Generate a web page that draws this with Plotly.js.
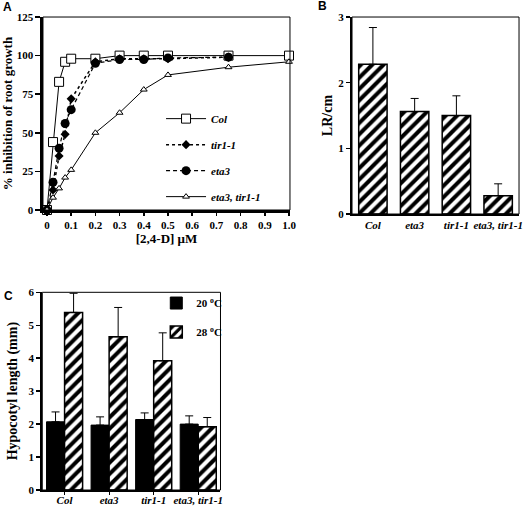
<!DOCTYPE html>
<html>
<head>
<meta charset="utf-8">
<script src="https://cdn.plot.ly/plotly-3.0.1.min.js"></script>
<style>html,body{margin:0;padding:0;background:#fff;}#chart{width:528px;height:508px;}</style>
</head>
<body>
<div id="chart"></div>
<script>
// ---- Panel A: dose response ----
var concA = [0, 0.025, 0.05, 0.075, 0.1, 0.2, 0.3, 0.4, 0.5, 0.75, 1.0];
var colA = [0, 44, 83, 96, 98, 98, 100, 100, 100, 100, 100];
var concB = [0, 0.025, 0.05, 0.075, 0.1, 0.2, 0.3, 0.4, 0.5, 0.75];
var tirA = [0, 13, 35, 49, 72, 96, 98, 98, 98, 99];
var eta3A = [0, 18, 40, 56, 65, 95, 97.5, 97.5, 98.5, 99];
var doubleA = [0, 8, 14, 21, 26, 50, 63, 78, 87.5, 92.5, 96];
var xTickVals = [0, 0.1, 0.2, 0.3, 0.4, 0.5, 0.6, 0.7, 0.8, 0.9, 1.0];
var xTickText = ['0', '0.1', '0.2', '0.3', '0.4', '0.5', '0.6', '0.7', '0.8', '0.9', '1.0'];
var yTickValsA = [0, 25, 50, 75, 100, 125];

// ---- Panel B: lateral roots ----
var genotypes = ['Col', 'eta3', 'tir1-1', 'eta3, tir1-1'];
var lrValues = [2.28, 1.56, 1.5, 0.28];
var lrErr = [0.56, 0.2, 0.3, 0.18];

// ---- Panel C: hypocotyl length ----
var hyp20 = [2.07, 1.97, 2.14, 2.0];
var hyp20Err = [0.3, 0.25, 0.2, 0.25];
var hyp28 = [5.39, 4.65, 3.92, 1.92];
var hyp28Err = [0.58, 0.89, 0.85, 0.28];

var serif = 'Liberation Serif, Times New Roman, serif';
var tickFont = {family: serif, size: 11, color: 'black', weight: 'bold'};
var italFont = {family: serif, size: 11, color: 'black', weight: 'bold', style: 'italic'};
var hatch = {shape: '/', size: 8, solidity: 0.5, fgcolor: 'black', bgcolor: 'white', fillmode: 'replace'};

var traces = [
  {x: concA, y: colA, name: 'Col', type: 'scatter', mode: 'lines+markers', xaxis: 'x', yaxis: 'y',
   line: {color: 'black', width: 1}, marker: {symbol: 'square', size: 9, color: 'white', line: {color: 'black', width: 1}},
   legendgroup: 'a1', cliponaxis: false},
  {x: concB, y: tirA, name: 'tir1-1', type: 'scatter', mode: 'lines+markers', xaxis: 'x', yaxis: 'y',
   line: {color: 'black', width: 1.5, dash: 'dot'}, marker: {symbol: 'diamond', size: 7, color: 'black'},
   legendgroup: 'a2', cliponaxis: false},
  {x: concB, y: eta3A, name: 'eta3', type: 'scatter', mode: 'lines+markers', xaxis: 'x', yaxis: 'y',
   line: {color: 'black', width: 1.2, dash: '4px,3px'}, marker: {symbol: 'circle', size: 9, color: 'black'},
   legendgroup: 'a3', cliponaxis: false},
  {x: concA, y: doubleA, name: 'eta3, tir1-1', type: 'scatter', mode: 'lines+markers', xaxis: 'x', yaxis: 'y',
   line: {color: 'black', width: 1}, marker: {symbol: 'triangle-up', size: 6, color: 'white', line: {color: 'black', width: 1}},
   legendgroup: 'a4', cliponaxis: false},
  {x: genotypes, y: lrValues, type: 'bar', xaxis: 'x2', yaxis: 'y2', showlegend: false, width: 0.68,
   marker: {color: 'white', pattern: hatch, line: {color: 'black', width: 1.5}},
   error_y: {type: 'data', array: lrErr, arrayminus: [0, 0, 0, 0], symmetric: false, color: 'black', thickness: 1, width: 4}},
  {x: genotypes, y: hyp20, type: 'bar', name: '20 <sup>o</sup>C', xaxis: 'x3', yaxis: 'y3', legend: 'legend2',
   marker: {color: 'black', line: {color: 'black', width: 1}}, legendgroup: 'c1',
   error_y: {type: 'data', array: hyp20Err, arrayminus: [0, 0, 0, 0], symmetric: false, color: 'black', thickness: 1, width: 4}},
  {x: genotypes, y: hyp28, type: 'bar', name: '28 <sup>o</sup>C', xaxis: 'x3', yaxis: 'y3', legend: 'legend2',
   marker: {color: 'white', pattern: hatch, line: {color: 'black', width: 1.5}}, legendgroup: 'c2',
   error_y: {type: 'data', array: hyp28Err, arrayminus: [0, 0, 0, 0], symmetric: false, color: 'black', thickness: 1, width: 4}}
];

function frame(xr, yr) {
  return {type: 'rect', xref: xr + ' domain', yref: yr + ' domain', x0: 0, x1: 1, y0: 0, y1: 1,
          line: {color: 'black', width: 1}, layer: 'above'};
}

var labelFont = {family: 'Liberation Sans, Arial, sans-serif', size: 12, weight: 'bold', color: 'black'};

var layout = {
  width: 528, height: 508,
  margin: {l: 0, r: 0, t: 0, b: 0},
  paper_bgcolor: 'white', plot_bgcolor: 'white',
  showlegend: true,
  barmode: 'group', bargap: 0.19, bargroupgap: 0,
  font: {family: serif, color: 'black'},
  xaxis: {domain: [0.0814, 0.5492], range: [-0.0165, 1.004], anchor: 'y',
          tickvals: xTickVals, ticktext: xTickText, ticks: 'outside', ticklen: 3, tickwidth: 1.5, tickcolor: 'black',
          showline: true, linewidth: 2.5, linecolor: 'black', showgrid: false, zeroline: false, tickfont: tickFont,
          title: {text: '[2,4-D] μM', font: {family: serif, size: 13, weight: 'bold', color: 'black'}, standoff: 1}},
  yaxis: {domain: [0.5866, 0.9665], range: [0, 125], anchor: 'x',
          tickvals: yTickValsA, ticks: 'outside', ticklen: 5, tickwidth: 1.5, tickcolor: 'black',
          showline: true, linewidth: 2.5, linecolor: 'black', showgrid: false, zeroline: false, tickfont: tickFont,
          title: {text: '% inhibition of root growth', font: {family: serif, size: 13, weight: 'bold', color: 'black'}, standoff: 5}},
  xaxis2: {domain: [0.6667, 0.983], range: [-0.5, 3.5], anchor: 'y2', type: 'category',
           ticks: '', showline: true, linewidth: 2, linecolor: 'black', showgrid: false, zeroline: false, tickfont: italFont},
  yaxis2: {domain: [0.5787, 0.9665], range: [0, 3], anchor: 'x2', tickvals: [0, 1, 2, 3],
           ticks: 'outside', ticklen: 4, tickwidth: 1.5, tickcolor: 'black',
           showline: true, linewidth: 2, linecolor: 'black', showgrid: false, zeroline: false, tickfont: tickFont,
           title: {text: 'LR/cm', font: {family: serif, size: 14, weight: 'bold', color: 'black'}, standoff: 2}},
  xaxis3: {domain: [0.0801, 0.4176], range: [-0.5, 3.5], anchor: 'y3', type: 'category',
           ticks: 'outside', ticklen: 3, tickwidth: 1, tickcolor: 'black', ticklabelstandoff: -4,
           showline: true, linewidth: 2, linecolor: 'black', showgrid: false, zeroline: false, tickfont: italFont},
  yaxis3: {domain: [0.0354, 0.4246], range: [0, 6], anchor: 'x3', tickvals: [0, 1, 2, 3, 4, 5, 6],
           ticks: 'outside', ticklen: 4, tickwidth: 1.5, tickcolor: 'black',
           showline: true, linewidth: 2, linecolor: 'black', showgrid: false, zeroline: false, tickfont: tickFont,
           title: {text: 'Hypocotyl length (mm)', font: {family: serif, size: 14, weight: 'bold', color: 'black'}, standoff: 8}},
  legend: {x: 0.305, y: 0.795, xanchor: 'left', yanchor: 'top', bgcolor: 'rgba(0,0,0,0)',
           font: italFont, tracegroupgap: 7, itemwidth: 40},
  legend2: {x: 0.296, y: 0.432, xanchor: 'left', yanchor: 'top', bgcolor: 'rgba(0,0,0,0)',
            font: tickFont, tracegroupgap: 10},
  shapes: [frame('x', 'y'), frame('x2', 'y2'), frame('x3', 'y3')],
  annotations: [
    {text: 'A', x: 0.0133, y: 0.986, xref: 'paper', yref: 'paper', xanchor: 'center', yanchor: 'middle',
     showarrow: false, borderpad: 0, font: labelFont},
    {text: 'B', x: 0.6117, y: 0.988, xref: 'paper', yref: 'paper', xanchor: 'center', yanchor: 'middle',
     showarrow: false, borderpad: 0, font: labelFont},
    {text: 'C', x: 0.0152, y: 0.417, xref: 'paper', yref: 'paper', xanchor: 'center', yanchor: 'middle',
     showarrow: false, borderpad: 0, font: labelFont}
  ]
};

Plotly.newPlot('chart', traces, layout, {displayModeBar: false, staticPlot: true});
</script>
</body>
</html>
